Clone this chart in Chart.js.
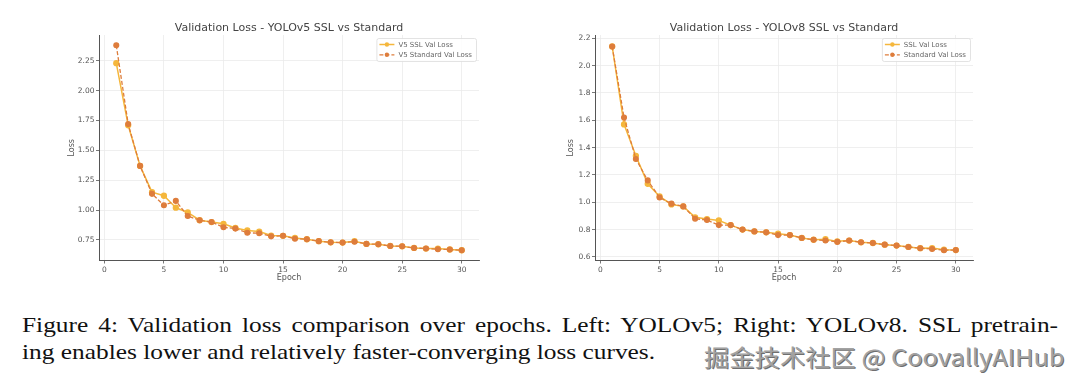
<!DOCTYPE html>
<html>
<head>
<meta charset="utf-8">
<script src="https://cdn.jsdelivr.net/npm/chart.js@4.4.0/dist/chart.umd.min.js"></script>
<style>
  html, body { margin: 0; padding: 0; background: #fff; }
  body { width: 1080px; height: 385px; position: relative; overflow: hidden; }
  .plot { position: absolute; top: 0; width: 540px; height: 295px; }
  #left { left: 0; }
  #right { left: 540px; }
  .cap {
    position: absolute; left: 22px;
    font-family: "Liberation Serif", "DejaVu Serif", serif;
    font-size: 21.5px; line-height: 26.7px; color: #111; white-space: nowrap;
    transform: scaleX(1.18); transform-origin: 0 0;
  }
  #cap1 { top: 312px; width: 878px; text-align: justify; text-align-last: justify; }
  #cap2 { top: 339px; }
  #mark {
    position: absolute; left: 704px; top: 341px;
    font-family: "Noto Sans CJK SC", "Noto Sans", sans-serif;
    font-size: 23px; line-height: 30px; color: #a2a2a2; white-space: nowrap;
    text-shadow: 1px 1px 0 #6f6f6f, -1px -1px 0 #fff;
    transform: scaleX(1.1); transform-origin: 0 0;
  }
</style>
</head>
<body>
<div class="plot" id="left"><canvas id="v5Chart"></canvas></div>
<div class="plot" id="right"><canvas id="v8Chart"></canvas></div>
<div class="cap" id="cap1">Figure 4: Validation loss comparison over epochs. Left: YOLOv5; Right: YOLOv8. SSL pretrain-</div>
<div class="cap" id="cap2">ing enables lower and relatively faster-converging loss curves.</div>
<div id="mark">掘金技术社区 @ CoovallyAIHub</div>
<script>
// epochs 1..30
const epochs = [1,2,3,4,5,6,7,8,9,10,11,12,13,14,15,16,17,18,19,20,21,22,23,24,25,26,27,28,29,30];

// YOLOv5 (left)
const v5Ssl = [2.23,1.71,1.37,1.15,1.12,1.02,0.98,0.915,0.90,0.885,0.85,0.83,0.82,0.787,0.785,0.767,0.756,0.74,0.73,0.728,0.74,0.717,0.714,0.70,0.697,0.683,0.678,0.678,0.67,0.664];
const v5Std = [2.38,1.72,1.37,1.136,1.04,1.077,0.95,0.915,0.90,0.856,0.845,0.81,0.806,0.78,0.785,0.76,0.756,0.74,0.73,0.728,0.735,0.717,0.714,0.70,0.697,0.683,0.678,0.672,0.67,0.664];

// YOLOv8 (right)
const v8Ssl = [2.14,1.57,1.34,1.135,1.043,0.984,0.97,0.89,0.877,0.867,0.833,0.80,0.787,0.78,0.77,0.76,0.739,0.726,0.73,0.714,0.72,0.707,0.702,0.69,0.683,0.673,0.664,0.665,0.653,0.65];
const v8Std = [2.14,1.62,1.317,1.16,1.035,0.99,0.97,0.88,0.87,0.833,0.833,0.80,0.787,0.78,0.76,0.76,0.739,0.726,0.72,0.71,0.72,0.707,0.702,0.69,0.683,0.673,0.664,0.658,0.649,0.65];

const xTicks = [0,5,10,15,20,25,30];
const v5YTicks = [0.75,1.00,1.25,1.50,1.75,2.00,2.25];
const v8YTicks = [0.6,0.8,1.0,1.2,1.4,1.6,1.8,2.0,2.2];

const SSL_COLOR = '#f5b73c';
const STD_COLOR = '#de7d3c';
const FONT = 'DejaVu Sans';

// legend drawn inside the plot, top right, matplotlib style
const insideLegend = {
    id: 'insideLegend',
    afterDatasetsDraw(chart) {
        const ctx = chart.ctx;
        const area = chart.chartArea;
        const sets = chart.data.datasets;
        ctx.save();
        ctx.font = '7px ' + FONT;
        let maxW = 0;
        sets.forEach(ds => { maxW = Math.max(maxW, ctx.measureText(ds.label).width); });
        const w = 22 + maxW + 4;
        const h = 23;
        const x0 = area.right - 3 - w;
        const y0 = area.top + 3;
        ctx.fillStyle = 'rgba(255,255,255,0.85)';
        ctx.strokeStyle = '#dcdcdc';
        ctx.lineWidth = 0.8;
        ctx.beginPath();
        ctx.roundRect(x0 + 0.5, y0 + 0.5, w, h, 2);
        ctx.fill();
        ctx.stroke();
        sets.forEach((ds, i) => {
            const cy = y0 + 6.5 + i * 10.3;
            ctx.strokeStyle = ds.borderColor;
            ctx.lineWidth = ds.borderWidth;
            ctx.setLineDash(ds.borderDash || []);
            ctx.beginPath();
            ctx.moveTo(x0 + 3, cy);
            ctx.lineTo(x0 + 18, cy);
            ctx.stroke();
            ctx.setLineDash([]);
            ctx.fillStyle = ds.pointBackgroundColor;
            ctx.beginPath();
            ctx.arc(x0 + 10.5, cy, 2.2, 0, Math.PI * 2);
            ctx.fill();
            ctx.fillStyle = '#666';
            ctx.textBaseline = 'middle';
            ctx.fillText(ds.label, x0 + 22, cy + 0.5);
        });
        ctx.restore();
    }
};

function series(ys) {
    return ys.map((y, i) => ({ x: epochs[i], y: y }));
}

function makeChart(id, title, sslLabel, stdLabel, ssl, std, yTicks, yMin, yMax, yDigits, yWidth, yTitlePad, padRight) {
    return new Chart(document.getElementById(id).getContext('2d'), {
        type: 'line',
        data: {
            datasets: [{
                label: sslLabel,
                data: series(ssl),
                borderColor: SSL_COLOR,
                backgroundColor: SSL_COLOR,
                pointBackgroundColor: SSL_COLOR,
                pointBorderColor: SSL_COLOR,
                borderWidth: 1.5,
                pointRadius: 2.4,
                tension: 0,
                order: 1
            }, {
                label: stdLabel,
                data: series(std),
                borderColor: STD_COLOR,
                backgroundColor: STD_COLOR,
                pointBackgroundColor: STD_COLOR,
                pointBorderColor: STD_COLOR,
                borderWidth: 1.3,
                borderDash: [4, 2],
                pointRadius: 2.4,
                tension: 0,
                order: 0
            }]
        },
        options: {
            responsive: true,
            maintainAspectRatio: false,
            animation: false,
            layout: { padding: { left: 0, right: padRight, top: 0, bottom: 0 } },
            plugins: {
                legend: { display: false },
                tooltip: { enabled: false },
                title: {
                    display: true,
                    text: title,
                    fullSize: false,
                    color: '#444',
                    font: { family: FONT, size: 11, weight: 'normal' },
                    padding: { top: 21.5, bottom: 0.3 }
                }
            },
            scales: {
                x: {
                    type: 'linear',
                    min: -0.45,
                    max: 31.45,
                    afterBuildTicks: s => { s.ticks = xTicks.map(v => ({ value: v })); },
                    afterFit: s => { s.height = 34.5; },
                    grid: { color: '#ebebeb', lineWidth: 0.8, tickLength: 3, tickColor: '#555' },
                    border: { color: '#555', width: 1 },
                    ticks: { color: '#555', padding: 2, font: { family: FONT, size: 7.5 } },
                    title: {
                        display: true, text: 'Epoch', color: '#555',
                        font: { family: FONT, size: 8 },
                        padding: { top: 0, bottom: 12 }
                    }
                },
                y: {
                    min: yMin,
                    max: yMax,
                    afterBuildTicks: s => { s.ticks = yTicks.map(v => ({ value: v })); },
                    afterFit: s => { s.width = yWidth; },
                    grid: { color: '#ebebeb', lineWidth: 0.8, tickLength: 3, tickColor: '#555' },
                    border: { color: '#555', width: 1 },
                    ticks: {
                        color: '#555', padding: 1.5,
                        font: { family: FONT, size: 7.5 },
                        callback: v => v.toFixed(yDigits)
                    },
                    title: {
                        display: true, text: 'Loss', color: '#555',
                        font: { family: FONT, size: 8 },
                        padding: { top: yTitlePad, bottom: 0 }
                    }
                }
            }
        },
        plugins: [insideLegend]
    });
}

makeChart('v5Chart', 'Validation Loss - YOLOv5 SSL vs Standard', 'V5 SSL Val Loss', 'V5 Standard Val Loss',
    v5Ssl, v5Std, v5YTicks, 0.578, 2.466, 2, 99, 67, 61);
makeChart('v8Chart', 'Validation Loss - YOLOv8 SSL vs Standard', 'SSL Val Loss', 'Standard Val Loss',
    v8Ssl, v8Std, v8YTicks, 0.574, 2.224, 1, 55, 26, 107);
</script>
</body>
</html>
